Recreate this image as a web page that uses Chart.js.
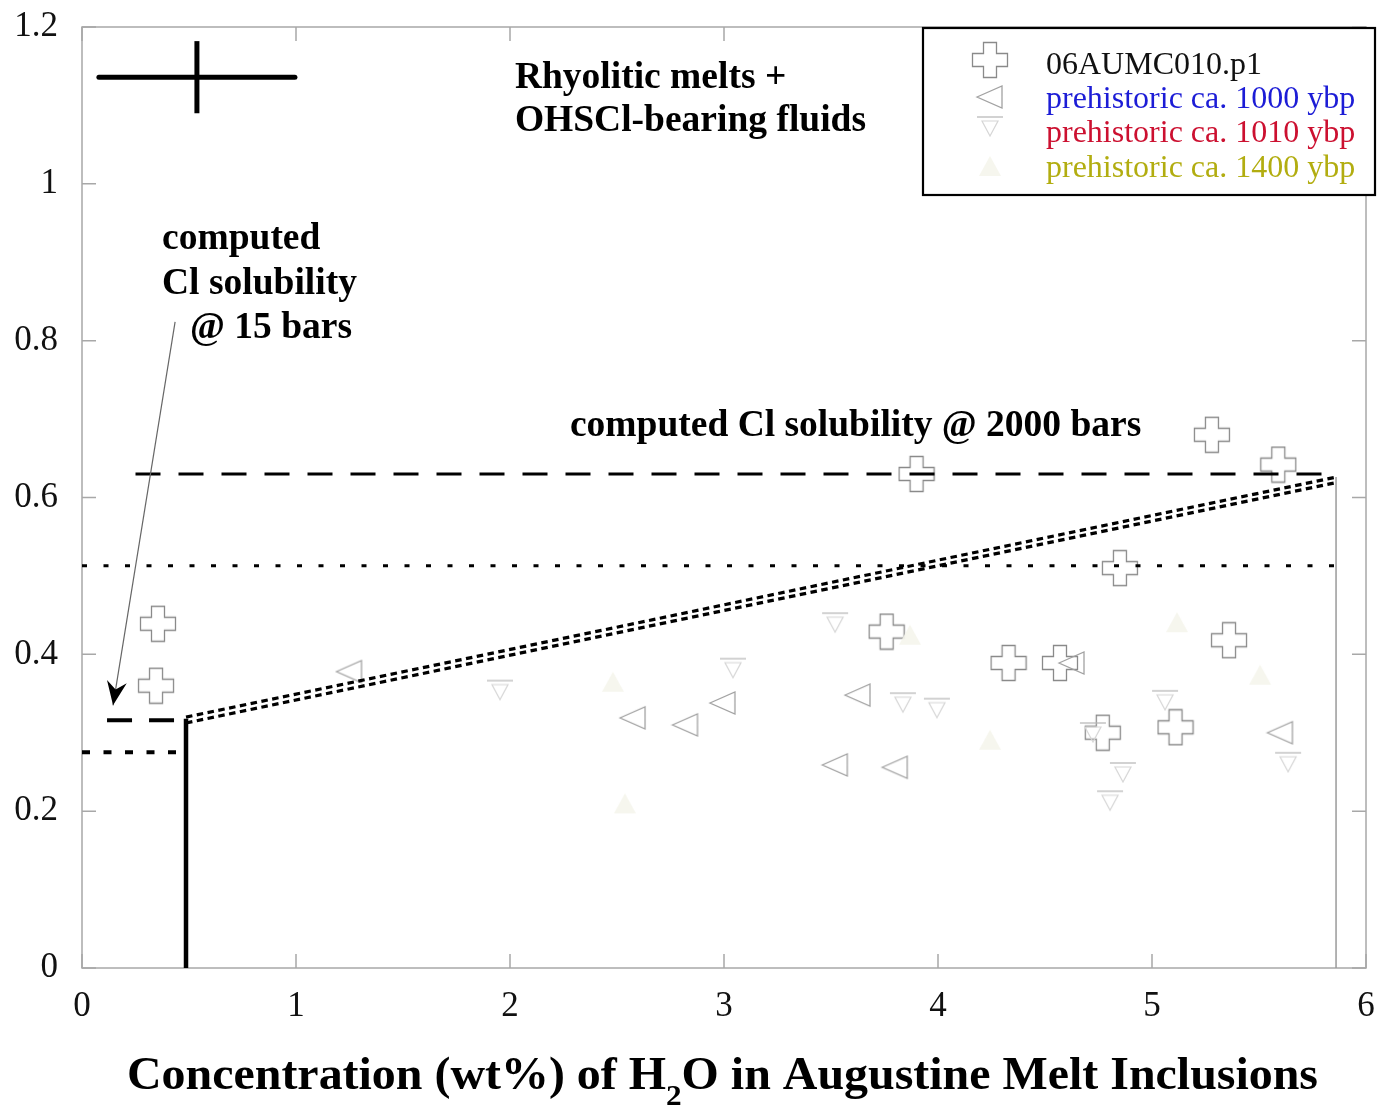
<!DOCTYPE html>
<html>
<head>
<meta charset="utf-8">
<script src="https://cdn.jsdelivr.net/npm/chart.js@4.4.1/dist/chart.umd.min.js"></script>
<style>
  html, body { margin: 0; padding: 0; background: #fff; }
  #wrap { width: 1386px; height: 1111px; }
</style>
</head>
<body>
<div id="wrap"><canvas id="chart" width="1386" height="1111"></canvas></div>
<script>
// ---- values ----
const xTickLabels = ['0', '1', '2', '3', '4', '5', '6'];
const yTickLabels = ['0', '0.2', '0.4', '0.6', '0.8', '1', '1.2'];

// 06AUMC010.p1 (open crosses)
const aumcX = [0.355, 0.346, 3.90, 3.76, 5.28, 5.59, 4.85, 4.33, 4.57, 5.36, 4.77, 5.11];
const aumcY = [0.439, 0.360, 0.630, 0.429, 0.680, 0.642, 0.510, 0.389, 0.389, 0.418, 0.300, 0.307];

// prehistoric ca. 1000 ybp (left triangles)
const pre1000X = [1.25, 2.575, 2.82, 2.995, 3.626, 3.52, 3.80, 4.626, 5.60];
const pre1000Y = [0.378, 0.319, 0.310, 0.338, 0.348, 0.259, 0.256, 0.389, 0.300];

// prehistoric ca. 1010 ybp (down triangles with bar)
const pre1010X = [1.953, 3.042, 3.519, 3.836, 3.995, 4.724, 5.061, 4.864, 4.804, 5.636];
const pre1010Y = [0.355, 0.383, 0.441, 0.339, 0.332, 0.301, 0.342, 0.250, 0.214, 0.263];

// prehistoric ca. 1400 ybp (very faint)
const pre1400X = [2.481, 2.537, 4.243, 3.869, 5.505, 5.117];
const pre1400Y = [0.365, 0.210, 0.291, 0.425, 0.374, 0.441];

// solubility lines
const sol2000DashX = [0.25, 5.86];
const sol2000DashY = [0.630, 0.630];
const sol2000DotX = [0.0, 5.86];
const sol2000DotY = [0.513, 0.513];
const sol15DashX = [0.117, 0.486];
const sol15DashY = [0.316, 0.316];
const sol15DotX = [0.0, 0.486];
const sol15DotY = [0.275, 0.275];
const waterLimitX = [0.486, 0.486];
const waterLimitY = [0.0, 0.318];
const mixUpperX = [0.486, 5.86];
const mixUpperY = [0.320, 0.626];
const mixLowerX = [0.486, 5.86];
const mixLowerY = [0.3125, 0.619];
const rightEdgeX = [5.86, 5.86];
const rightEdgeY = [0.0, 0.626];

// typical error bar (top left)
const errCenter = [0.537, 1.136];
const errHalf = [0.458, 0.046];

// arrow for the 15 bar label
const arrowFrom = [0.435, 0.824];
const arrowTo = [0.145, 0.335];

const pts = (xs, ys) => xs.map((x, i) => ({ x, y: ys[i] }));

// ---- marker images ----
const makeMarker = (w, h, draw) => {
    const c = document.createElement('canvas');
    c.width = w; c.height = h;
    draw(c.getContext('2d'), w, h);
    return c;
};

const crossIcon = makeMarker(38, 38, g => {
    const cx = 19, cy = 19, a = 6.5, b = 17.5;
    g.strokeStyle = '#8a8a8a';
    g.lineWidth = 1.3;
    g.beginPath();
    g.moveTo(cx - a, cy - b); g.lineTo(cx + a, cy - b); g.lineTo(cx + a, cy - a);
    g.lineTo(cx + b, cy - a); g.lineTo(cx + b, cy + a); g.lineTo(cx + a, cy + a);
    g.lineTo(cx + a, cy + b); g.lineTo(cx - a, cy + b); g.lineTo(cx - a, cy + a);
    g.lineTo(cx - b, cy + a); g.lineTo(cx - b, cy - a); g.lineTo(cx - a, cy - a);
    g.closePath();
    g.stroke();
});

const leftTriIcon = makeMarker(30, 26, g => {
    g.strokeStyle = '#a2a2a2';
    g.lineWidth = 1.3;
    g.beginPath();
    g.moveTo(2, 13); g.lineTo(27, 2); g.lineTo(27, 24); g.closePath();
    g.stroke();
});

const downBarIcon = makeMarker(28, 24, g => {
    g.strokeStyle = '#b4b4b4';
    g.lineWidth = 1.2;
    g.beginPath();
    g.moveTo(1, 3); g.lineTo(27, 3);
    g.stroke();
    g.strokeStyle = '#d6d6d6';
    g.beginPath();
    g.moveTo(6, 7); g.lineTo(22, 7); g.lineTo(14, 22); g.closePath();
    g.stroke();
});

const faintIcon = makeMarker(26, 24, g => {
    g.fillStyle = 'rgba(245, 245, 236, 0.9)';
    g.beginPath();
    g.moveTo(13, 2); g.lineTo(24, 22); g.lineTo(2, 22); g.closePath();
    g.fill();
});

const SERIF = '"Liberation Serif", "Times New Roman", serif';

// ---- plugins ----
const framePlugin = {
    id: 'frame',
    beforeDatasetsDraw(chart) {
        const { ctx, chartArea: a, scales: { x, y } } = chart;
        ctx.save();
        ctx.strokeStyle = '#a8a8a8';
        ctx.lineWidth = 1.5;
        ctx.strokeRect(a.left, a.top, a.right - a.left, a.bottom - a.top);
        ctx.beginPath();
        xTickLabels.forEach((_, i) => {
            const px = x.getPixelForValue(i);
            ctx.moveTo(px, a.bottom); ctx.lineTo(px, a.bottom - 14);
            ctx.moveTo(px, a.top); ctx.lineTo(px, a.top + 14);
        });
        yTickLabels.forEach((_, i) => {
            const py = y.getPixelForValue(i * 0.2);
            ctx.moveTo(a.left, py); ctx.lineTo(a.left + 14, py);
            ctx.moveTo(a.right, py); ctx.lineTo(a.right - 14, py);
        });
        ctx.stroke();
        ctx.restore();
    }
};

const notesPlugin = {
    id: 'notes',
    afterDatasetsDraw(chart) {
        const { ctx, scales: { x, y } } = chart;
        ctx.save();

        // arrow
        const x0 = x.getPixelForValue(arrowFrom[0]), y0 = y.getPixelForValue(arrowFrom[1]);
        const x1 = x.getPixelForValue(arrowTo[0]), y1 = y.getPixelForValue(arrowTo[1]);
        ctx.strokeStyle = '#666';
        ctx.lineWidth = 1.2;
        ctx.beginPath();
        ctx.moveTo(x0, y0); ctx.lineTo(x1, y1);
        ctx.stroke();
        const ang = Math.atan2(y1 - y0, x1 - x0);
        ctx.translate(x1, y1);
        ctx.rotate(ang);
        ctx.fillStyle = '#000';
        ctx.beginPath();
        ctx.moveTo(0, 0); ctx.lineTo(-24, -10); ctx.lineTo(-16, 0); ctx.lineTo(-24, 10);
        ctx.closePath();
        ctx.fill();
        ctx.setTransform(1, 0, 0, 1, 0, 0);

        // annotations
        ctx.fillStyle = '#000';
        ctx.font = 'bold 37.5px ' + SERIF;
        ctx.textBaseline = 'alphabetic';
        ctx.textAlign = 'left';
        const put = (t, vx, vy) => ctx.fillText(t, x.getPixelForValue(vx), y.getPixelForValue(vy));
        put('Rhyolitic melts +', 2.023, 1.122);
        put('OHSCl-bearing fluids', 2.023, 1.068);
        put('computed', 0.374, 0.917);
        put('Cl solubility', 0.374, 0.860);
        put('@ 15 bars', 0.505, 0.803);
        put('computed Cl solubility @ 2000 bars', 2.28, 0.679);

        // legend box
        ctx.fillStyle = '#fff';
        ctx.fillRect(923, 28, 452, 167);
        ctx.strokeStyle = '#000';
        ctx.lineWidth = 2.2;
        ctx.strokeRect(923, 28, 452, 167);
        const rows = [
            { icon: crossIcon, text: '06AUMC010.p1', color: '#111', iy: 60, ty: 74 },
            { icon: leftTriIcon, text: 'prehistoric ca. 1000 ybp', color: '#1c1cd6', iy: 97, ty: 108 },
            { icon: downBarIcon, text: 'prehistoric ca. 1010 ybp', color: '#cc1030', iy: 126, ty: 142 },
            { icon: faintIcon, text: 'prehistoric ca. 1400 ybp', color: '#b2ad10', iy: 166, ty: 177 }
        ];
        ctx.font = '32px ' + SERIF;
        rows.forEach(r => {
            ctx.drawImage(r.icon, 990 - r.icon.width / 2, r.iy - r.icon.height / 2);
            ctx.fillStyle = r.color;
            ctx.fillText(r.text, 1046, r.ty);
        });

        // x axis title with subscript
        const parts = [
            { t: 'Concentration (wt%) of H', f: 'bold 46px ' + SERIF, dy: 0 },
            { t: '2', f: 'bold 30px ' + SERIF, dy: 16 },
            { t: 'O in Augustine Melt Inclusions', f: 'bold 46px ' + SERIF, dy: 0 }
        ];
        let total = 0;
        parts.forEach(p => { ctx.font = p.f; p.w = ctx.measureText(p.t).width; total += p.w; });
        const target = 1191;
        const sx = target / total;
        ctx.translate(127, 1089);
        ctx.scale(sx, 1);
        let cx = 0;
        ctx.fillStyle = '#000';
        parts.forEach(p => { ctx.font = p.f; ctx.fillText(p.t, cx, p.dy); cx += p.w; });
        ctx.restore();
    }
};

// ---- datasets ----
const lineSet = (xs, ys, opts) => Object.assign({
    data: pts(xs, ys),
    showLine: true,
    pointRadius: 0,
    borderColor: '#000',
    borderCapStyle: 'butt',
    fill: false,
    order: 0,
    clip: false
}, opts);

const markerSet = (label, xs, ys, icon) => ({
    label,
    data: pts(xs, ys),
    pointStyle: icon,
    pointRadius: 10,
    showLine: false,
    order: 1,
    clip: false
});

const datasets = [
    markerSet('prehistoric ca. 1400 ybp', pre1400X, pre1400Y, faintIcon),
    markerSet('prehistoric ca. 1010 ybp', pre1010X, pre1010Y, downBarIcon),
    markerSet('prehistoric ca. 1000 ybp', pre1000X, pre1000Y, leftTriIcon),
    markerSet('06AUMC010.p1', aumcX, aumcY, crossIcon),
    lineSet(sol2000DashX, sol2000DashY, { borderWidth: 3, borderDash: [25, 18] }),
    lineSet(sol2000DotX, sol2000DotY, { borderWidth: 3, borderDash: [5, 16.5] }),
    lineSet(sol15DashX, sol15DashY, { borderWidth: 4, borderDash: [25, 17] }),
    lineSet(sol15DotX, sol15DotY, { borderWidth: 4, borderDash: [8, 13.5] }),
    lineSet(waterLimitX, waterLimitY, { borderWidth: 4.5 }),
    lineSet(mixUpperX, mixUpperY, { borderWidth: 3.2, borderDash: [6.5, 4.5] }),
    lineSet(mixLowerX, mixLowerY, { borderWidth: 3.2, borderDash: [6.5, 4.5] }),
    lineSet(rightEdgeX, rightEdgeY, { borderWidth: 1.5, borderColor: '#9a9a9a' }),
    lineSet([errCenter[0] - errHalf[0], errCenter[0] + errHalf[0]], [errCenter[1], errCenter[1]], { borderWidth: 5, borderCapStyle: 'round' }),
    lineSet([errCenter[0], errCenter[0]], [errCenter[1] - errHalf[1], errCenter[1] + errHalf[1]], { borderWidth: 5 })
];

new Chart(document.getElementById('chart'), {
    type: 'scatter',
    data: { datasets },
    options: {
        responsive: false,
        animation: false,
        devicePixelRatio: 1,
        layout: { padding: { left: 0, right: 20, top: 27, bottom: 0 } },
        plugins: { legend: { display: false }, tooltip: { enabled: false } },
        scales: {
            x: {
                type: 'linear',
                min: 0, max: 6,
                grid: { display: false, drawTicks: false },
                border: { display: false },
                ticks: {
                    stepSize: 1,
                    padding: 18,
                    color: '#111',
                    font: { family: SERIF, size: 35 },
                    callback: (v, i) => xTickLabels[i]
                },
                afterFit: s => {
                    s.height = 143;
                    s.paddingLeft = 0; s.paddingRight = 0;
                }
            },
            y: {
                type: 'linear',
                min: 0, max: 1.2,
                grid: { display: false, drawTicks: false },
                border: { display: false },
                ticks: {
                    stepSize: 0.2,
                    padding: 24,
                    color: '#111',
                    font: { family: SERIF, size: 35 },
                    callback: (v, i) => yTickLabels[i]
                },
                afterFit: s => {
                    s.width = 82;
                    s.paddingTop = 0; s.paddingBottom = 0;
                }
            }
        }
    },
    plugins: [framePlugin, notesPlugin]
});
</script>
</body>
</html>
